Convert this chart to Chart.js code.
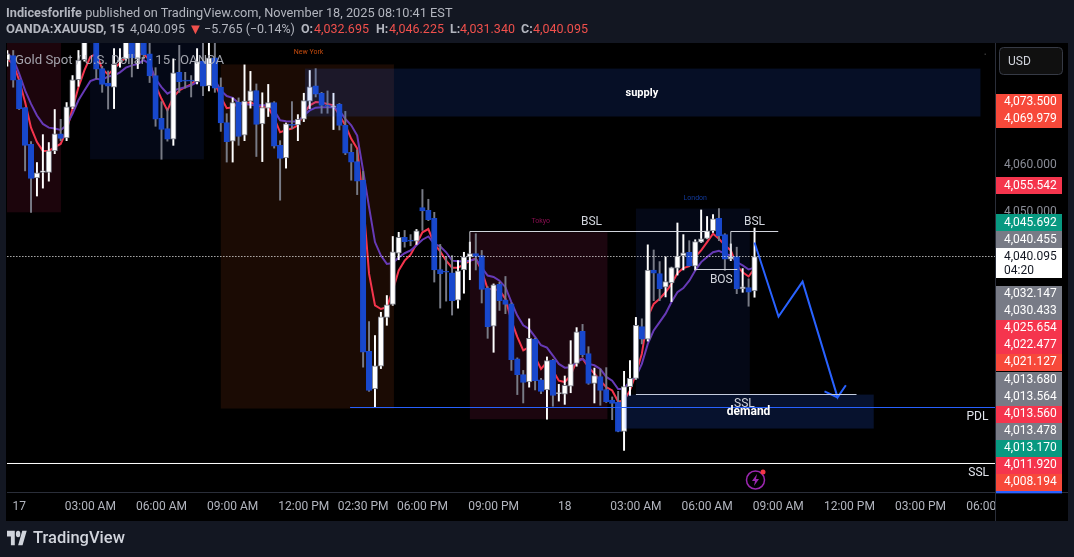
<!DOCTYPE html>
<html>
<head>
<meta charset="utf-8">
<title>XAUUSD 15</title>
<script src="https://cdn.jsdelivr.net/npm/chart.js@4"></script>
<style>
  html, body { margin: 0; padding: 0; background: #131722; }
  body { width: 1074px; height: 557px; overflow: hidden; position: relative; font-family: Roboto, sans-serif; font-size: 12.75px; color: #b2b5be; }
  canvas { position: absolute; left: 0; top: 0; }
  .t { position: absolute; white-space: nowrap; line-height: 16px; }
  .s { font-size: 12.5px; }
  .b { font-weight: 700; }
  .r { color: #f0504c; }
  #logo { position: absolute; left: 7px; top: 530px; }
  #brand { position: absolute; left: 33px; top: 528px; font-size: 16.5px; line-height: 20px; font-weight: 500; color: #d1d4dc; }
</style>
</head>
<body>
<canvas id="chart" width="1074" height="557"></canvas>
<div class="t" style="left:6px;top:5px"><span class="b">Indicesforlife</span> published on TradingView.com, November 18, 2025 08:10:41 EST</div>
<div class="t b" style="left:6px;top:21px;font-size:13px">OANDA:XAUUSD, 15</div>
<div class="t s" style="left:130px;top:21px">4,040.095</div>
<div class="t r" style="left:188px;top:21px;font-size:15px">▼</div>
<div class="t s" style="left:204px;top:21px">−5.765 (−0.14%)</div>
<div class="t b s" style="left:301px;top:21px">O:</div><div class="t r s" style="left:314px;top:21px">4,032.695</div>
<div class="t b s" style="left:376px;top:21px">H:</div><div class="t r s" style="left:389px;top:21px">4,046.225</div>
<div class="t b s" style="left:450px;top:21px">L:</div><div class="t r s" style="left:460px;top:21px">4,031.340</div>
<div class="t b s" style="left:521px;top:21px">C:</div><div class="t r s" style="left:533px;top:21px">4,040.095</div>
<svg id="logo" width="20" height="16" viewBox="0 3 36 20" preserveAspectRatio="none"><path fill="#d1d4dc" d="M14 22H7V11H0V4h14v18zM28 22h-8l7.5-18h8L28 22z"/><circle fill="#d1d4dc" cx="20" cy="8" r="4"/></svg>
<div id="brand">TradingView</div>
<script>
// 15 minute candles, left to right
const opens = [
  4082.3,4083.3,4078.1,4072.1,4064.2,4057.0,4058.2,4058.2,4062.8,4066.5,
  4065.6,4072.2,4078.1,4082.4,4086.9,4087.0,4080.5,4077.4,4076.5,4082.0,
  4082.6,4087.0,4082.6,4087.0,4083.7,4079.0,4069.8,4067.6,4065.3,4079.7,
  4077.9,4077.9,4077.7,4082.1,4076.8,4082.8,4076.5,4068.9,4064.9,4073.3,
  4066.2,4073.5,4075.8,4068.6,4072.0,4073.2,4064.0,4061.3,4068.5,4068.4,
  4069.6,4073.5,4076.8,4075.2,4072.6,4072.2,4072.8,4068.3,4062.5,4060.5,
  4056.5,4019.7,4011.6,4016.5,4027.0,4029.8,4040.8,4044.2,4043.5,4043.4,
  4050.6,4050.0,4048.3,4037.3,4036.9,4036.6,4030.7,4037.2,4040.0,4040.7,
  4040.3,4033.3,4025.1,4034.1,4030.8,4029.9,4018.1,4014.7,4013.1,4022.3,
  4013.6,4011.4,4017.8,4010.6,4010.5,4012.2,4017.1,4024.0,4019.2,4012.8,
  4014.3,4011.5,4009.2,4008.8,4002.5,4012.1,4013.9,4025.0,4022.3,4037.2,
  4036.4,4033.5,4034.4,4037.6,4040.2,4041.0,4038.0,4043.2,4044.0,4045.6,
  4048.3,4044.8,4039.5,4040.1,4033.1,4033.4,4032.695
];
const highs = [
  4084.4,4084.4,4078.1,4072.1,4064.8,4060.3,4066.3,4064.6,4071.7,4069.6,
  4073.2,4079.0,4084.4,4088.0,4090.0,4088.0,4081.0,4080.0,4084.8,4084.8,
  4088.0,4088.0,4088.0,4088.0,4087.0,4080.7,4073.4,4071.9,4082.6,4085.5,
  4079.7,4079.0,4084.8,4087.0,4087.0,4087.0,4078.5,4070.8,4074.2,4074.2,
  4081.3,4079.9,4077.2,4075.3,4077.1,4073.4,4065.0,4068.8,4073.4,4070.6,
  4075.2,4080.1,4080.5,4075.4,4075.7,4075.2,4073.0,4071.3,4064.3,4063.0,
  4058.4,4026.1,4023.1,4028.1,4031.7,4044.4,4045.3,4045.7,4044.8,4045.9,
  4054.5,4052.4,4049.6,4042.7,4040.1,4040.3,4039.2,4041.0,4043.2,4045.0,
  4041.4,4033.6,4034.2,4034.6,4035.8,4030.1,4018.3,4015.6,4026.7,4022.5,
  4013.9,4018.5,4018.0,4012.6,4014.4,4022.0,4024.8,4025.5,4020.7,4016.1,
  4015.9,4016.2,4009.9,4011.1,4015.4,4017.7,4027.0,4026.7,4042.6,4041.5,
  4039.0,4040.0,4037.8,4047.3,4044.8,4043.5,4043.7,4050.1,4048.7,4049.1,
  4050.4,4045.0,4042.8,4042.1,4037.5,4035.3,4046.225
];
const lows = [
  4081.0,4076.5,4071.7,4058.5,4049.6,4053.1,4054.8,4056.3,4062.2,4065.0,
  4065.0,4071.9,4076.7,4082.1,4086.5,4078.3,4075.4,4071.8,4071.9,4080.8,
  4082.3,4078.7,4080.5,4082.6,4077.5,4068.1,4061.0,4064.9,4064.0,4075.4,
  4076.3,4074.4,4077.2,4074.7,4075.7,4075.4,4067.0,4060.4,4060.4,4064.0,
  4065.0,4072.0,4061.6,4060.5,4070.2,4063.4,4052.2,4059.1,4067.6,4065.0,
  4069.1,4071.9,4074.4,4070.9,4070.9,4067.4,4067.3,4062.0,4056.5,4053.4,
  4016.3,4011.1,4007.7,4016.0,4025.3,4029.6,4039.4,4042.1,4042.4,4042.7,
  4045.7,4047.8,4034.6,4029.0,4030.5,4027.5,4029.0,4032.2,4035.1,4037.2,
  4030.1,4022.5,4019.5,4028.5,4027.8,4015.6,4010.4,4008.6,4012.0,4011.4,
  4010.6,4005.1,4007.9,4009.0,4008.3,4010.8,4016.5,4018.5,4012.6,4008.6,
  4008.1,4008.7,4005.0,4002.4,3998.4,4010.2,4013.7,4021.3,4021.9,4030.6,
  4030.6,4031.4,4030.4,4036.1,4037.2,4038.0,4037.2,4043.1,4043.9,4045.3,
  4043.5,4037.1,4039.2,4032.1,4032.4,4029.4,4031.34
];
const closes = [
  4083.7,4078.0,4071.9,4064.0,4056.9,4058.1,4058.5,4062.8,4066.5,4065.5,
  4072.3,4078.1,4082.3,4086.9,4089.0,4080.4,4077.1,4076.7,4081.4,4082.3,
  4087.0,4082.8,4087.0,4083.5,4078.9,4069.6,4067.4,4065.3,4079.6,4077.7,
  4077.8,4077.8,4082.0,4076.7,4082.8,4076.3,4068.8,4064.8,4073.2,4065.9,
  4073.5,4075.7,4068.5,4072.1,4073.2,4063.8,4061.2,4068.6,4068.3,4069.6,
  4073.6,4076.6,4075.0,4072.6,4072.4,4072.5,4068.3,4062.3,4060.4,4056.3,
  4019.5,4011.3,4016.6,4027.1,4029.7,4041.1,4044.2,4043.3,4043.4,4045.6,
  4049.9,4048.0,4037.2,4036.4,4036.7,4030.6,4037.0,4040.0,4040.7,4040.1,
  4033.0,4025.0,4034.0,4030.6,4029.8,4017.9,4014.7,4013.0,4022.5,4013.4,
  4011.1,4017.7,4010.2,4010.7,4012.4,4017.0,4023.9,4019.0,4012.8,4014.5,
  4011.3,4008.9,4008.5,4002.5,4012.1,4013.9,4025.3,4022.3,4037.2,4036.5,
  4033.2,4034.7,4037.7,4040.2,4040.9,4038.1,4043.3,4043.9,4045.6,4048.2,
  4044.5,4039.5,4040.1,4033.1,4033.6,4032.4,4040.095
];
const fastAvg = [
  4082.6,4081.5,4078.0,4073.3,4067.8,4064.7,4062.8,4062.8,4063.6,4064.3,
  4067.2,4071.9,4076.5,4080.1,4083.0,4083.7,4080.5,4079.2,4080.5,4081.7,
  4083.0,4083.5,4083.5,4083.7,4082.3,4076.9,4074.0,4071.5,4074.4,4075.8,
  4076.5,4077.1,4078.3,4079.0,4078.5,4077.4,4074.4,4072.0,4072.2,4073.1,
  4072.9,4073.3,4072.6,4072.2,4072.2,4069.9,4066.8,4067.3,4067.6,4068.3,
  4070.8,4072.6,4073.3,4073.2,4072.9,4072.6,4070.4,4068.3,4065.4,4063.3,
  4052.2,4036.4,4029.6,4028.8,4029.2,4032.8,4037.1,4039.2,4040.5,4042.8,
  4045.3,4046.0,4042.8,4041.2,4039.2,4037.7,4037.7,4038.4,4039.2,4039.6,
  4037.1,4033.1,4033.1,4032.8,4031.0,4026.3,4022.8,4019.9,4020.6,4018.5,
  4015.9,4017.4,4015.6,4013.4,4013.1,4014.5,4017.7,4018.1,4016.3,4014.9,
  4013.4,4012.0,4011.3,4008.9,4009.1,4011.3,4014.9,4019.2,4027.1,4029.9,
  4031.0,4032.4,4034.2,4036.5,4037.6,4038.0,4040.0,4041.4,4043.2,4045.0,
  4043.9,4042.5,4041.4,4038.2,4036.7,4035.8,4037.5
];
const slowAvg = [
  4083.7,4082.6,4079.4,4075.8,4072.9,4070.4,4068.6,4067.8,4067.6,4067.3,
  4068.3,4070.8,4073.7,4075.8,4077.8,4078.3,4078.1,4078.8,4079.0,4079.7,
  4080.7,4081.2,4081.5,4082.3,4081.5,4078.3,4076.5,4075.1,4075.8,4076.2,
  4076.5,4076.9,4077.6,4078.5,4078.5,4078.1,4075.8,4074.6,4074.2,4073.1,
  4072.9,4072.7,4072.6,4072.6,4072.6,4071.5,4069.4,4069.2,4069.1,4069.1,
  4070.4,4071.5,4072.1,4072.2,4072.2,4072.2,4071.5,4069.7,4068.3,4066.1,
  4058.6,4050.7,4043.2,4040.3,4038.5,4038.7,4039.9,4040.8,4041.4,4042.5,
  4043.7,4044.4,4042.8,4042.3,4041.0,4039.2,4039.1,4039.0,4039.2,4039.6,
  4037.7,4036.0,4035.7,4034.9,4033.5,4030.3,4027.4,4025.3,4024.5,4022.8,
  4021.0,4020.5,4018.8,4017.0,4016.2,4016.3,4017.4,4018.1,4017.0,4016.7,
  4015.9,4014.2,4013.4,4011.6,4011.6,4013.4,4014.2,4017.0,4021.3,4024.2,
  4026.0,4027.8,4030.3,4032.4,4033.3,4034.9,4037.1,4038.9,4040.0,4041.0,
  4041.3,4040.7,4040.3,4038.9,4038.2,4037.3,4037.7
];

// time axis: bar number and its label (there is a one hour market gap before 06:00 PM)
const tickBars = [2,14,26,38,50,60,70,82,94,106,118,130,142,154,166];
const tickLabels = ["17","03:00 AM","06:00 AM","09:00 AM","12:00 PM","02:30 PM","06:00 PM","09:00 PM","18","03:00 AM","06:00 AM","09:00 AM","12:00 PM","03:00 PM","06:00 PM"];
const priceTicks = [4060, 4050];

// price tags on the right
const tagPrices = [4073.5,4069.979,4055.542,4045.692,4040.455,4040.095,4032.147,4030.433,4025.654,4022.477,4021.127,4013.68,4013.564,4013.56,4013.478,4013.17,4011.92,4008.194];
const tagColors = ["#f7493a","#f7493a","#f5354d","#089981","#787b86","#ffffff","#787b86","#787b86","#f5354d","#f5354d","#f7493a","#787b86","#787b86","#f5354d","#787b86","#089981","#f5354d","#f7493a"];
const lastPrice = 4040.095;
const countdown = "04:20";

// session boxes behind the candles: bar from, bar to, price top, price bottom, colour
const sessionBoxes = [
  [-1, 9.05, 4090, 4049.6, "#1c050c"],
  [13.95, 33.15, 4090, 4061.0, "#040816"],
  [36.0, 65.2, 4081.4, 4007.4, "#1b0b04"],
  [78.0, 101.2, 4045.3, 4005.1, "#1c060f"],
  [106.0, 125.2, 4050.4, 4010.4, "#040816"]
];
// supply and demand zones, see-through over the candles
const zoneBoxes = [
  [50.2, 164.1, 4080.5, 4070.2, "rgba(41,98,255,0.15)"],
  [104.1, 146.1, 4010.4, 4003.1, "rgba(41,98,255,0.18)"]
];

// drawn lines
const pdlPrice = 4007.62;
const lowerSslPrice = 3995.585;
const bslOneX = [78, 78, 118];
const bslOneY = [4040.8, 4045.47, 4045.47];
const bslTwoX = [122, 122, 130];
const bslTwoY = [4039.7, 4045.47, 4045.47];
const bosX = [115.9, 123.1];
const bosY = [4037.3, 4037.3];
const sslX = [106, 143.2];
const sslY = [4010.42, 4010.42];
const pathX = [126, 130.05, 134.1, 140, 141.4, 140, 137.8];
const pathY = [4043.1, 4027.2, 4034.7, 4009.8, 4012.4, 4009.8, 4011.1];

// notes: text, bar, price, font, colour
const notes = [
  ["supply", 107, 4075.4, "bold 11px Roboto", "#ffffff"],
  ["SSL", 124.3, 4008.5, "12px Roboto", "#d1d4dc"],
  ["demand", 125, 4006.8, "bold 12px Roboto", "#ffffff"],
  ["BSL", 98.5, 4047.8, "12px Roboto", "#d1d4dc"],
  ["BSL", 126, 4047.8, "12px Roboto", "#d1d4dc"],
  ["BOS", 120.4, 4035.2, "12px Roboto", "#d1d4dc"],
  ["PDL", 163.6, 4005.7, "12px Roboto", "#e0e3eb"],
  ["SSL", 163.8, 3993.7, "12px Roboto", "#e0e3eb"],
  ["New York", 50.8, 4084.2, "7px Roboto", "#c24a0e"],
  ["Tokyo", 89.95, 4047.8, "7px Roboto", "#880e4f"],
  ["London", 116, 4052.8, "7px Roboto", "#123a9c"]
];

const fmt = v => v.toLocaleString("en-US", { minimumFractionDigits: 3, maximumFractionDigits: 3 });
const UP = "#ffffff", DOWN = "#1848cc", GREY = "#787b86";
const bars = opens.map((o, i) => i);
const isUp = bars.map(i => closes[i] >= opens[i]);

function pairs(xs, ys) {
  return xs.map((x, i) => ({ x: x, y: ys[i] }));
}
function lineSet(data, color, width, dash) {
  return {
    type: "line", data: data, borderColor: color, borderWidth: width, borderDash: dash || [],
    pointRadius: 0, tension: 0, order: 0
  };
}

function drawBoxes(chart, boxes) {
  const { ctx, chartArea, scales: { x, y } } = chart;
  ctx.save();
  ctx.beginPath();
  ctx.rect(chartArea.left, chartArea.top, chartArea.right - chartArea.left, chartArea.bottom - chartArea.top);
  ctx.clip();
  boxes.forEach(b => {
    ctx.fillStyle = b[4];
    const x0 = x.getPixelForValue(b[0]), x1 = x.getPixelForValue(b[1]);
    const y0 = y.getPixelForValue(b[2]), y1 = y.getPixelForValue(b[3]);
    ctx.fillRect(x0, y0, x1 - x0, y1 - y0);
  });
  ctx.restore();
}

const paneOverlay = {
  id: "paneOverlay",
  beforeDraw(chart) {
    const { ctx, chartArea } = chart;
    ctx.fillStyle = "#000000";
    ctx.fillRect(chartArea.left - 1, chartArea.top, 1068 - chartArea.left + 1, 521 - chartArea.top);
  },
  beforeDatasetsDraw(chart) {
    drawBoxes(chart, sessionBoxes);
  },
  afterDatasetsDraw(chart) {
    drawBoxes(chart, zoneBoxes);
  },
  afterDraw(chart) {
    const { ctx, chartArea, scales: { x, y } } = chart;
    const right = chartArea.right;

    // time axis stops at the price column
    ctx.fillStyle = "#000000";
    ctx.fillRect(right, chartArea.bottom, 1068 - right, 521 - chartArea.bottom);

    ctx.textBaseline = "middle";
    ctx.textAlign = "center";
    notes.forEach(n => {
      ctx.font = n[3];
      ctx.fillStyle = n[4];
      ctx.fillText(n[0], x.getPixelForValue(n[1]), y.getPixelForValue(n[2]) + 1);
    });

    ctx.textAlign = "left";
    ctx.font = "13.2px Roboto";
    ctx.fillStyle = "rgba(178,181,190,0.9)";
    ctx.fillText("Gold Spot / U.S. Dollar · 15 · OANDA", 15, 61);

    // alert icon
    ctx.strokeStyle = "#9c27b0";
    ctx.lineWidth = 1.5;
    ctx.beginPath();
    ctx.arc(755.5, 480, 9, 0, Math.PI * 2);
    ctx.stroke();
    ctx.fillStyle = "#9c27b0";
    ctx.beginPath();
    ctx.moveTo(757, 474); ctx.lineTo(752, 481); ctx.lineTo(755, 481);
    ctx.lineTo(754, 486); ctx.lineTo(759, 479); ctx.lineTo(756, 479);
    ctx.closePath();
    ctx.fill();
    ctx.fillStyle = "#f23645";
    ctx.beginPath();
    ctx.arc(763, 472, 2.5, 0, Math.PI * 2);
    ctx.fill();
    ctx.fillStyle = "#333";
    ctx.fillRect(984.5, 53.5, 1.5, 1.5);

    // frame lines
    ctx.fillStyle = "#2a2e39";
    ctx.fillRect(right, chartArea.top, 1, 521 - chartArea.top);
    ctx.fillRect(chartArea.left, chartArea.bottom, 1068 - chartArea.left, 1);

    // USD button
    ctx.fillStyle = "#101010";
    ctx.strokeStyle = "#363a45";
    ctx.lineWidth = 1;
    ctx.beginPath();
    ctx.roundRect(999.5, 47.5, 63, 27, 4);
    ctx.fill();
    ctx.stroke();
    ctx.fillStyle = "#d1d4dc";
    ctx.font = "12px Roboto";
    ctx.fillText("USD", 1008, 62);

    // price tags: kept 17px apart, pushed away from the last price tag
    const rowH = 17;
    const cur = tagPrices.indexOf(lastPrice);
    const rows = tagPrices.map(p => y.getPixelForValue(p) + 1);
    rows[cur] -= 1;
    for (let i = 1; i < cur; i++) rows[i] = Math.max(rows[i], rows[i - 1] + rowH);
    rows[cur - 1] = Math.min(rows[cur - 1], rows[cur] - rowH);
    for (let i = cur - 2; i >= 0; i--) rows[i] = Math.min(rows[i], rows[i + 1] - rowH);
    rows[cur + 1] = Math.max(rows[cur + 1], rows[cur] + 22 + rowH / 2);
    for (let i = cur + 2; i < rows.length; i++) rows[i] = Math.max(rows[i], rows[i - 1] + rowH);

    ctx.fillStyle = "#2962ff";
    ctx.fillRect(right + 1, rows[rows.length - 1] + rowH / 2, 66, 2.5);
    tagPrices.forEach((p, i) => {
      const h = i === cur ? 30 : rowH;
      ctx.fillStyle = tagColors[i];
      ctx.fillRect(right + 1, Math.round(rows[i] - rowH / 2), 66, h);
      ctx.fillStyle = i === cur ? "#131722" : "#ffffff";
      ctx.fillText(fmt(p), 1004, rows[i]);
      if (i === cur) ctx.fillText(countdown, 1004, rows[i] + 14);
    });
  }
};

new Chart(document.getElementById("chart"), {
  data: {
    datasets: [
      {
        type: "bar", grouped: false, barThickness: 5.5, minBarLength: 1, order: 1,
        data: bars.map(i => ({ x: i, y: [opens[i], closes[i]] })),
        backgroundColor: bars.map(i => isUp[i] ? UP : DOWN),
        borderColor: bars.map(i => isUp[i] ? GREY : DOWN),
        borderWidth: 1, borderSkipped: false
      },
      {
        type: "bar", grouped: false, barThickness: 1.3, order: 2,
        data: bars.map(i => ({ x: i, y: [lows[i], highs[i]] })),
        backgroundColor: bars.map(i => isUp[i] ? UP : GREY),
        borderWidth: 0
      },
      Object.assign(lineSet(bars.map(i => ({ x: i, y: slowAvg[i] })), "#673ab7", 2), { order: 3 }),
      Object.assign(lineSet(bars.map(i => ({ x: i, y: fastAvg[i] })), "#f5354d", 2), { order: 3 }),
      lineSet(pairs([-1, 170], [lastPrice, lastPrice]), "#ffffff", 1, [1, 2]),
      lineSet(pairs([57.8, 170], [pdlPrice, pdlPrice]), "#2962ff", 1),
      lineSet(pairs([-1, 170], [lowerSslPrice, lowerSslPrice]), "#ffffff", 1),
      lineSet(pairs(bslOneX, bslOneY), "#d1d4dc", 1),
      lineSet(pairs(bslTwoX, bslTwoY), "#d1d4dc", 1),
      lineSet(pairs(bosX, bosY), "#d1d4dc", 1),
      lineSet(pairs(sslX, sslY), "#d1d4dc", 1),
      lineSet(pairs(pathX, pathY), "#2962ff", 2)
    ]
  },
  options: {
    responsive: false,
    animation: false,
    events: [],
    layout: { autoPadding: false, padding: { left: 7, top: 43, right: 6, bottom: 36 } },
    plugins: { legend: { display: false }, tooltip: { enabled: false } },
    scales: {
      x: {
        type: "linear",
        offset: false,
        min: -0.05,
        max: 166.55,
        grid: { display: false, drawTicks: false, offset: false },
        border: { display: false },
        afterBuildTicks: scale => { scale.ticks = tickBars.map(v => ({ value: v })); },
        afterFit: scale => { scale.height = 29; scale.paddingLeft = 0; scale.paddingRight = 0; },
        ticks: {
          autoSkip: false, maxRotation: 0, minRotation: 0, padding: 8, color: "#b2b5be",
          font: { family: "Roboto", size: 12 },
          callback: v => tickLabels[tickBars.indexOf(v)]
        }
      },
      y: {
        type: "linear",
        position: "right",
        min: 3989.455,
        max: 4086.005,
        grid: { display: false, drawTicks: false },
        border: { display: false },
        afterBuildTicks: scale => { scale.ticks = priceTicks.map(v => ({ value: v })); },
        afterFit: scale => { scale.width = 73; scale.paddingTop = 0; scale.paddingBottom = 0; },
        ticks: {
          padding: 9, color: "#8a8d97", labelOffset: 1.5,
          font: { family: "Roboto", size: 12 },
          callback: v => fmt(v)
        }
      }
    }
  },
  plugins: [paneOverlay]
});
</script>
</body>
</html>
